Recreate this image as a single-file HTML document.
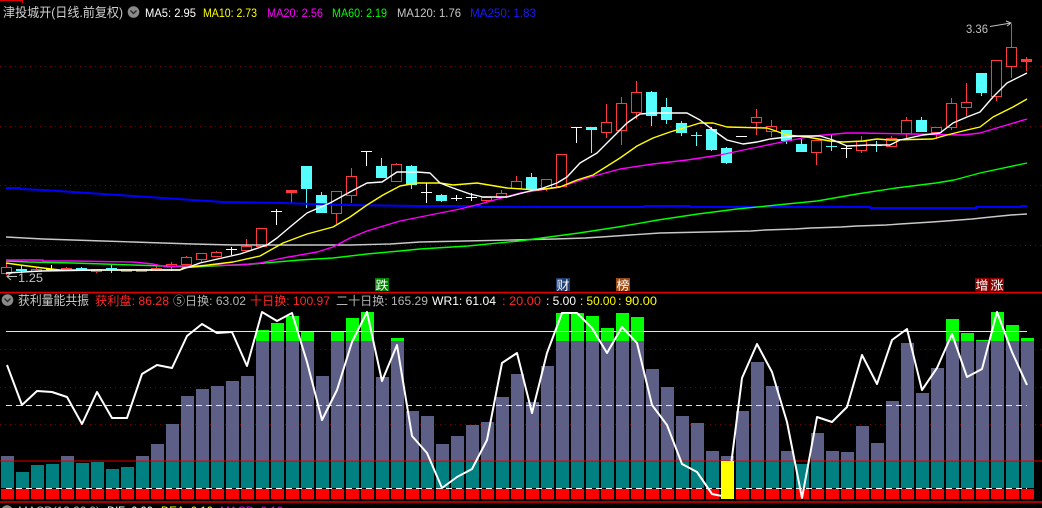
<!DOCTYPE html>
<html><head><meta charset="utf-8"><style>
html,body{margin:0;padding:0;background:#000;}
svg{display:block;}
text{font-family:"Liberation Sans","Noto Sans CJK SC",sans-serif;}
</style></head><body>
<svg width="1042" height="508" viewBox="0 0 1042 508" xmlns="http://www.w3.org/2000/svg">
<defs>
<pattern id="pr" x="1" y="0" width="15" height="508" patternUnits="userSpaceOnUse"><rect x="0" y="0" width="13" height="508" fill="#ff0000"/></pattern>
<pattern id="pt" x="1" y="0" width="15" height="508" patternUnits="userSpaceOnUse"><rect x="0" y="0" width="13" height="508" fill="#008080"/></pattern>
</defs>
<rect x="0" y="0" width="1042" height="508" fill="#000"/>
<polyline points="0,0.5 22.5,0.5 22.5,3" fill="none" stroke="#e00000" stroke-width="1"/>

<path d="M0 66.5H1042M0 126.5H1042M0 185.5H1042M0 245.5H1042" stroke="#7a0000" stroke-width="1" stroke-dasharray="1 4" fill="none"/>

<g stroke-width="1" shape-rendering="crispEdges">
<path fill="none" stroke="#ff3a3a" d="M6.5 263V275M36.5 268V272M66.5 267V270M96.5 269V273M126.5 269V272M156.5 266V270M171.5 262V271M186.5 256V265M201.5 253V263M216.5 251V257M246.5 239V251M336.5 191V224M351.5 168V203M396.5 163V182M486.5 196V202M501.5 190V198M516.5 176V189M546.5 179V191M606.5 104V138M621.5 97V145M636.5 81V119M756.5 109V135M771.5 120V137M816.5 140V165M861.5 136V153M891.5 136V147M906.5 117V139M936.5 127V139M951.5 98V130M966.5 83V116M996.5 60V101M1011.5 24V78M291.5 190V203M1026.5 57V71"/>
<path fill="#000" stroke="#ff3a3a" d="M1.5 267.5h10v6h-10zM31.5 269.5h10v2h-10zM61.5 268.5h10v2h-10zM91.5 269.5h10v2h-10zM121.5 269.5h10v2h-10zM136.5 269.5h10v2h-10zM151.5 268.5h10v2h-10zM166.5 264.5h10v2h-10zM181.5 257.5h10v7h-10zM196.5 253.5h10v6h-10zM211.5 252.5h10v4h-10zM241.5 246.5h10v4h-10zM256.5 228.5h10v18h-10zM331.5 191.5h10v22h-10zM346.5 176.5h10v19h-10zM391.5 164.5h10v17h-10zM481.5 197.5h10v3h-10zM496.5 193.5h10v4h-10zM511.5 181.5h10v7h-10zM541.5 179.5h10v9h-10zM556.5 154.5h10v32h-10zM601.5 122.5h10v10h-10zM616.5 103.5h10v27h-10zM631.5 92.5h10v20h-10zM751.5 117.5h10v5h-10zM766.5 126.5h10v5h-10zM811.5 140.5h10v12h-10zM856.5 141.5h10v9h-10zM886.5 138.5h10v8h-10zM901.5 120.5h10v13h-10zM931.5 127.5h10v5h-10zM946.5 103.5h10v24h-10zM961.5 102.5h10v5h-10zM991.5 60.5h10v36h-10zM1006.5 47.5h10v19h-10z"/>
<path fill="#ff3a3a" d="M286 190h11v3h-11zM1021 59h11v3h-11z"/>
<path fill="none" stroke="#55ffff" d="M21.5 265V273M81.5 267V270M106 268.5H117M111.5 265V273M306.5 166V208M321.5 192V213M381.5 158V178M411.5 165V189M441.5 194V202M531.5 173V189M591.5 127V153M651.5 91V126M666.5 98V124M681.5 121V136M691 135.5H702M696.5 132V146M711.5 127V151M726.5 147V164M786.5 130V144M801.5 139V152M826 146.5H837M831.5 135V151M871 145.5H882M876.5 141V152M921.5 117V132M981.5 73V96"/>
<path fill="#55ffff" d="M16 269h11v2h-11zM76 268h11v2h-11zM301 166h11v23h-11zM316 195h11v18h-11zM376 166h11v12h-11zM406 166h11v19h-11zM436 195h11v6h-11zM526 177h11v12h-11zM586 127h11v3h-11zM646 92h11v24h-11zM661 107h11v13h-11zM676 123h11v10h-11zM706 129h11v21h-11zM721 148h11v15h-11zM781 130h11v11h-11zM796 144h11v8h-11zM916 120h11v12h-11zM976 73h11v20h-11z"/>
<path fill="none" stroke="#ffffff" d="M46 269.5H57M51.5 265V270M226 249.5H237M231.5 247V255M271 211.5H282M276.5 209V225M361 151.5H372M366.5 151V166M421 192.5H432M426.5 183V203M451 198.5H462M456.5 195V201M466 197.5H477M471.5 193V201M571 127.5H582M576.5 127V143M736 136.5H747M841 148.5H852M846.5 146V158"/>
</g>

<g fill="none" stroke-width="1.4" stroke-linejoin="round">
<polyline stroke="#0000ff" stroke-width="2" points="6,188 20,188 20,189 43,190 73,192 103,194 133,196 163,198 193,200 223,202 283,203 343,205 420,206 480,206 480,207 644,207 644,206 690,206 690,207 870,207 870,208 976,208 976,207 1021,207 1021,206 1027,206"/>
<polyline stroke="#c8c8c8" points="6,237 43,239 73,240 103,241 133,242 163,243 193,244 233,245 350,245 390,244 420,242 465,241 511,240 555,239 585,238 601,237 630,235 660,233 706,232 751,231 765,230 795,229 811,228 841,227 857,226 886,225 900,224 932,222 946,221 972,219 991,217 1011,215 1027,214"/>
<polyline stroke="#00ff00" points="6,261 28,262 73,263 133,265 193,267 253,264 300,260 333,258 367,254 400,251 420,249 468,246 519,241 579,233 618,227 658,220 698,214 737,209 777,205 817,201 857,194 896,188 936,183 954,180 980,173 1027,163"/>
<polyline stroke="#ff00ff" points="6,260 43,260 43,261 73,261 133,262 153,264 167,267 180,266 240,265 260,263 283,258 317,252 333,247 350,238 367,231 400,221 420,217 440,213 460,209 480,204 520,193 560,187 587,178 620,169 653,164 687,160 720,155 753,148 787,141 813,136 847,133 860,133 913,134 963,135 980,133 1000,127 1027,119"/>
<polyline stroke="#ffff00" points="6,263 20,265 43,268 60,270 180,270 183,268 200,266 233,262 260,256 283,243 307,234 333,227 350,217 367,205 383,195 400,186 417,183 440,183 453,185 477,183 507,188 537,190 560,187 577,180 593,175 620,158 637,146 653,138 670,132 687,127 700,123 713,123 727,127 767,128 773,130 787,135 807,137 830,141 843,142 863,141 877,139 890,140 933,139 947,135 967,130 980,127 993,117 1013,107 1027,99"/>
<polyline stroke="#ffffff" points="6,273 40,271 100,270 180,270 200,263 240,254 267,245 277,238 290,227 307,213 330,203 350,192 367,183 382,182 397,172 417,172 430,173 440,183 453,188 470,194 483,197 507,197 530,191 543,188 557,183 567,177 580,163 597,153 613,137 627,123 640,114 653,113 670,113 687,113 700,120 713,130 727,140 743,144 757,142 770,139 787,137 800,136 820,136 833,140 847,146 870,145 890,145 900,140 923,135 940,133 953,123 967,117 980,112 993,97 1007,83 1027,73"/>
</g>

<text x="966" y="33" font-size="12" fill="#c0c0c0" textLength="22" lengthAdjust="spacingAndGlyphs">3.36</text>
<path d="M990 26.5L1011 23M1006 21L1011 23L1007 26M7 276.5H17M11 273L7 276.5L11 280" stroke="#c0c0c0" stroke-width="1" fill="none"/>
<text x="18" y="282" font-size="12" fill="#c0c0c0" textLength="25" lengthAdjust="spacingAndGlyphs">1.25</text>

<text x="3" y="17" font-size="13" fill="#d0d0d0" textLength="120" lengthAdjust="spacingAndGlyphs">津投城开(日线.前复权)</text>
<circle cx="133.5" cy="12" r="5.8" fill="#8a8a8a"/>
<polyline points="130.5,10.5 133.5,13.5 136.5,10.5" fill="none" stroke="#2a2a2a" stroke-width="1.4"/>
<text x="145" y="17" font-size="12" fill="#ffffff" textLength="51" lengthAdjust="spacingAndGlyphs">MA5: 2.95</text>
<text x="203" y="17" font-size="12" fill="#ffff00" textLength="54" lengthAdjust="spacingAndGlyphs">MA10: 2.73</text>
<text x="267" y="17" font-size="12" fill="#ff00ff" textLength="56" lengthAdjust="spacingAndGlyphs">MA20: 2.56</text>
<text x="332" y="17" font-size="12" fill="#00ff00" textLength="55" lengthAdjust="spacingAndGlyphs">MA60: 2.19</text>
<text x="397" y="17" font-size="12" fill="#c8c8c8" textLength="64" lengthAdjust="spacingAndGlyphs">MA120: 1.76</text>
<text x="470" y="17" font-size="12" fill="#1a1aff" textLength="66" lengthAdjust="spacingAndGlyphs">MA250: 1.83</text>

<rect x="375" y="278" width="14" height="13" fill="#008000"/>
<text x="375.5" y="289.5" font-size="12" fill="#fff" textLength="13" lengthAdjust="spacingAndGlyphs">跌</text>
<rect x="556" y="278" width="14" height="13" fill="#1f3f74"/>
<text x="556.5" y="289.5" font-size="12" fill="#fff" textLength="13" lengthAdjust="spacingAndGlyphs">财</text>
<rect x="616" y="278" width="14" height="13" fill="#9a4a14"/>
<text x="616.5" y="289.5" font-size="12" fill="#fff" textLength="13" lengthAdjust="spacingAndGlyphs">榜</text>
<rect x="975" y="278" width="14" height="13" fill="#8b0000"/>
<text x="975.5" y="289.5" font-size="12" fill="#fff" textLength="13" lengthAdjust="spacingAndGlyphs">增</text>
<rect x="990" y="278" width="14" height="13" fill="#8b0000"/>
<text x="990.5" y="289.5" font-size="12" fill="#fff" textLength="13" lengthAdjust="spacingAndGlyphs">涨</text>

<line x1="0" y1="292.5" x2="1042" y2="292.5" stroke="#e00000" stroke-width="1.5"/>

<circle cx="7.5" cy="300" r="5.8" fill="#8a8a8a"/>
<polyline points="4.5,298.5 7.5,301.5 10.5,298.5" fill="none" stroke="#2a2a2a" stroke-width="1.4"/>
<text x="18" y="305" font-size="13" fill="#c8c8c8" textLength="71" lengthAdjust="spacingAndGlyphs">获利量能共振</text>
<text x="95" y="305" font-size="12" fill="#ff2a2a" textLength="74" lengthAdjust="spacingAndGlyphs">获利盘: 86.28</text>
<text x="173" y="305" font-size="12" fill="#b4b4b4" textLength="73" lengthAdjust="spacingAndGlyphs">⑤日换: 63.02</text>
<text x="250" y="305" font-size="12" fill="#ff2a2a" textLength="80" lengthAdjust="spacingAndGlyphs">十日换: 100.97</text>
<text x="336" y="305" font-size="12" fill="#b4b4b4" textLength="92" lengthAdjust="spacingAndGlyphs">二十日换: 165.29</text>
<text x="432" y="305" font-size="12" fill="#ffffff" textLength="64" lengthAdjust="spacingAndGlyphs">WR1: 61.04</text>
<text x="502" y="305" font-size="12" fill="#ff2a2a" textLength="39" lengthAdjust="spacingAndGlyphs">: 20.00</text>
<text x="546" y="305" font-size="12" fill="#ffffff" textLength="30" lengthAdjust="spacingAndGlyphs">: 5.00</text>
<text x="580" y="305" font-size="12" fill="#ffff00" textLength="36" lengthAdjust="spacingAndGlyphs">: 50.00</text>
<text x="618" y="305" font-size="12" fill="#ffff00" textLength="39" lengthAdjust="spacingAndGlyphs">: 90.00</text>

<path d="M0 349.5H1042M0 387.5H1042M0 424.5H1042" stroke="#7a0000" stroke-width="1" stroke-dasharray="1 4" fill="none"/>

<g shape-rendering="crispEdges">
<path fill="#5d5f87" d="M1 456h13V461h-13zM61 456h13V461h-13zM136 456h13V461h-13zM151 444h13V461h-13zM166 424h13V461h-13zM181 396h13V461h-13zM196 389h13V461h-13zM211 386h13V461h-13zM226 381h13V461h-13zM241 376h13V461h-13zM256 341h13V461h-13zM271 341h13V461h-13zM286 341h13V461h-13zM301 341h13V461h-13zM316 376h13V461h-13zM331 341h13V461h-13zM346 341h13V461h-13zM361 341h13V461h-13zM376 377h13V461h-13zM391 341h13V461h-13zM406 411h13V461h-13zM421 416h13V461h-13zM436 444h13V461h-13zM451 436h13V461h-13zM466 425h13V461h-13zM481 422h13V461h-13zM496 397h13V461h-13zM511 374h13V461h-13zM526 402h13V461h-13zM541 366h13V461h-13zM556 341h13V461h-13zM571 341h13V461h-13zM586 341h13V461h-13zM601 341h13V461h-13zM616 341h13V461h-13zM631 341h13V461h-13zM646 369h13V461h-13zM661 387h13V461h-13zM676 416h13V461h-13zM691 423h13V461h-13zM706 451h13V461h-13zM721 456h13V461h-13zM736 411h13V461h-13zM751 362h13V461h-13zM766 386h13V461h-13zM781 451h13V461h-13zM811 433h13V461h-13zM826 451h13V461h-13zM841 452h13V461h-13zM856 426h13V461h-13zM871 443h13V461h-13zM886 401h13V461h-13zM901 343h13V461h-13zM916 393h13V461h-13zM931 368h13V461h-13zM946 341h13V461h-13zM961 341h13V461h-13zM976 341h13V461h-13zM991 341h13V461h-13zM1006 341h13V461h-13zM1021 341h13V461h-13z"/>
<path fill="#00ff00" d="M256 330h13V341h-13zM271 323h13V341h-13zM286 316h13V341h-13zM301 332h13V341h-13zM331 332h13V341h-13zM346 318h13V341h-13zM361 312h13V341h-13zM391 338h13V341h-13zM556 313h13V341h-13zM571 313h13V341h-13zM586 316h13V341h-13zM601 328h13V341h-13zM616 313h13V341h-13zM631 317h13V341h-13zM946 319h13V341h-13zM961 333h13V341h-13zM976 340h13V341h-13zM991 312h13V341h-13zM1006 325h13V341h-13zM1021 338h13V341h-13z"/>
<rect x="1" y="461" width="1033" height="27" fill="url(#pt)"/>
<path fill="#000" d="M16 461h13v11h-13zM31 461h13v4h-13zM46 461h13v3h-13zM76 461h13v2h-13zM91 461h13v1h-13zM106 461h13v8h-13zM121 461h13v6h-13zM796 461h13v3h-13z"/>
<rect x="1" y="489" width="1033" height="10" fill="url(#pr)"/>
</g>

<line x1="6" y1="331.5" x2="1027" y2="331.5" stroke="#ffff00" stroke-width="1"/>
<line x1="6" y1="405.5" x2="1027" y2="405.5" stroke="#ffff00" stroke-width="1" stroke-dasharray="6 4"/>
<line x1="0" y1="461" x2="1042" y2="461" stroke="#e00000" stroke-width="1"/>
<line x1="6" y1="488.5" x2="1027" y2="488.5" stroke="#ffffff" stroke-width="1" stroke-dasharray="6 4"/>

<polyline fill="none" stroke="#ffffff" stroke-width="2" stroke-linejoin="round" points="7,365 22,405 37,391 52,392 67,397 82,424 97,392 112,418 127,418 142,374 157,365 172,368 187,336 202,324 217,333 232,332 247,366 262,312 277,321 292,313 307,362 322,420 337,390 352,342 367,312 382,381 397,345 412,436 427,453 442,488 457,477 472,469 487,440 502,363 517,353 532,413 547,353 562,313 577,313 592,328 607,353 622,327 637,343 652,405 667,425 682,464 697,472 712,494 727,497 742,378 757,344 772,372 787,422 802,498 817,417 832,422 847,407 862,355 877,384 892,340 907,329 922,390 937,368 952,334 967,377 982,369 997,312 1012,352 1027,385"/>

<rect x="721" y="461" width="13" height="38" fill="#ffff00"/>

<line x1="0" y1="502" x2="1042" y2="502" stroke="#e00000" stroke-width="1.5"/>

<circle cx="7" cy="511" r="5.8" fill="#8a8a8a"/>
<text x="18" y="515" font-size="12" fill="#b4b4b4" textLength="82" lengthAdjust="spacingAndGlyphs">MACD(12,26,9)</text>
<text x="107" y="515" font-size="12" fill="#ffffff" textLength="46" lengthAdjust="spacingAndGlyphs">DIF: 0.00</text>
<text x="161" y="515" font-size="12" fill="#ffff00" textLength="52" lengthAdjust="spacingAndGlyphs">DEA: 0.10</text>
<text x="220" y="515" font-size="12" fill="#ff00ff" textLength="63" lengthAdjust="spacingAndGlyphs">MACD: 0.10</text>
</svg>
</body></html>
